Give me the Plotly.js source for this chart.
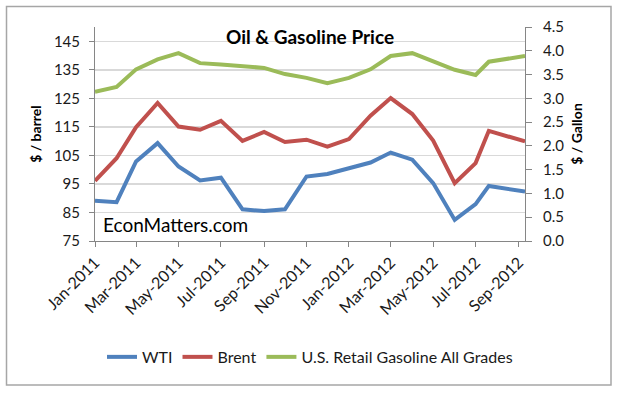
<!DOCTYPE html>
<html>
<head>
<meta charset="utf-8">
<script src="https://cdn.plot.ly/plotly-3.0.1.min.js"></script>
<style>
  html, body { margin: 0; padding: 0; background: #ffffff; }
  #chart { width: 619px; height: 394px; }
</style>
</head>
<body>
<div id="chart"></div>
<script>
// ---- Data ----
const dates = [
  '2011-01-01', '2011-02-01', '2011-03-01', '2011-04-01', '2011-05-01', '2011-06-01',
  '2011-07-01', '2011-08-01', '2011-09-01', '2011-10-01', '2011-11-01', '2011-12-01',
  '2012-01-01', '2012-02-01', '2012-03-01', '2012-04-01', '2012-05-01', '2012-06-01',
  '2012-07-01', '2012-07-20', '2012-09-10'
];
const wti = [89.1, 88.6, 102.9, 109.3, 101.1, 96.2, 97.2, 86.1, 85.5, 86.1, 97.6, 98.5,
             100.5, 102.5, 106.0, 103.5, 95.3, 82.4, 87.9, 94.3, 92.3];
const brent = [96.1, 104.0, 114.9, 123.4, 115.1, 114.0, 117.1, 110.1, 113.2, 109.7, 110.5, 108.1,
               110.7, 118.9, 125.1, 119.5, 110.2, 95.3, 102.3, 113.6, 109.9];
const gasoline = [3.14, 3.24, 3.61, 3.82, 3.95, 3.74, 3.71, 3.67, 3.64, 3.51, 3.43, 3.32,
                  3.43, 3.61, 3.89, 3.95, 3.77, 3.60, 3.49, 3.77, 3.89];
const seriesNames = ['WTI', 'Brent', 'U.S. Retail Gasoline All Grades'];
const leftTicks = [75, 85, 95, 105, 115, 125, 135, 145];
const rightTicks = [0, 0.5, 1, 1.5, 2, 2.5, 3, 3.5, 4, 4.5];
const titleText = 'Oil & Gasoline Price';
const leftTitle = '$ / barrel';
const rightTitle = '$ / Gallon';
const watermark = 'EconMatters.com';

const FONT = 'Lato, "Open Sans", "DejaVu Sans", sans-serif';

const traces = [
  { x: dates, y: wti, name: seriesNames[0], type: 'scatter', mode: 'lines',
    line: { color: '#4F81BD', width: 4 }, yaxis: 'y' },
  { x: dates, y: brent, name: seriesNames[1], type: 'scatter', mode: 'lines',
    line: { color: '#C0504D', width: 4 }, yaxis: 'y' },
  { x: dates, y: gasoline, name: seriesNames[2], type: 'scatter', mode: 'lines',
    line: { color: '#9BBB59', width: 4 }, yaxis: 'y2' }
];

const layout = {
  width: 619, height: 394,
  margin: { l: 95, r: 94, t: 27, b: 153, pad: 0 },
  paper_bgcolor: '#ffffff', plot_bgcolor: '#ffffff',
  font: { family: FONT, color: '#1a1a1a', size: 14 },
  showlegend: true,
  title: {
    text: '<b>' + titleText + '</b>',
    font: { family: FONT, size: 19, color: '#000000' },
    xref: 'paper', x: 0.5, xanchor: 'center',
    yref: 'container', y: 0.906, yanchor: 'middle'
  },
  xaxis: {
    type: 'date',
    range: ['2011-01-01', '2012-09-10'],
    tick0: '2011-01-01', dtick: 'M2', tickformat: '%b-%Y',
    tickangle: -45,
    ticks: 'outside', ticklen: 5, tickcolor: '#868686',
    showline: true, linecolor: '#868686', linewidth: 1,
    showgrid: false, zeroline: false,
    tickfont: { family: FONT, size: 16, color: '#1a1a1a' },
    automargin: false
  },
  yaxis: {
    range: [75, 150],
    tickvals: leftTicks,
    ticks: 'outside', ticklen: 5, tickcolor: '#868686',
    ticklabelstandoff: 6,
    showline: true, linecolor: '#868686', linewidth: 1,
    showgrid: true, gridcolor: '#d9d9d9', gridwidth: 1.5,
    zeroline: false,
    tickfont: { family: FONT, size: 15, color: '#1a1a1a' },
    title: { text: '<b>' + leftTitle + '</b>', font: { family: FONT, size: 14, color: '#000000' }, standoff: 8 },
    automargin: false
  },
  yaxis2: {
    overlaying: 'y', side: 'right',
    range: [0, 4.5],
    tickvals: rightTicks, tickformat: '.1f',
    ticks: 'outside', ticklen: 6, tickcolor: '#868686',
    ticklabelstandoff: 8,
    showline: true, linecolor: '#868686', linewidth: 1,
    showgrid: false, zeroline: false,
    tickfont: { family: FONT, size: 15, color: '#1a1a1a' },
    title: { text: '<b>' + rightTitle + '</b>', font: { family: FONT, size: 14, color: '#000000' }, standoff: 8 },
    automargin: false
  },
  legend: {
    orientation: 'h',
    xref: 'paper', x: 0.5, xanchor: 'center',
    yref: 'container', y: 0.094, yanchor: 'middle',
    font: { family: FONT, size: 16, color: '#1a1a1a' },
    bgcolor: 'rgba(0,0,0,0)'
  },
  annotations: [
    { text: watermark, xref: 'paper', yref: 'paper', x: 0.014, y: 0.075,
      xanchor: 'left', yanchor: 'middle', showarrow: false,
      font: { family: FONT, size: 19, color: '#000000' } }
  ],
  shapes: [
    { type: 'rect', xref: 'paper', yref: 'paper',
      x0: -0.2058, x1: 1.2, y0: -0.673, y1: 1.0958,
      line: { color: '#a6a6a6', width: 1.5 }, fillcolor: 'rgba(0,0,0,0)', layer: 'below' }
  ]
};

Plotly.newPlot('chart', traces, layout, { displayModeBar: false, staticPlot: true });
</script>
</body>
</html>
